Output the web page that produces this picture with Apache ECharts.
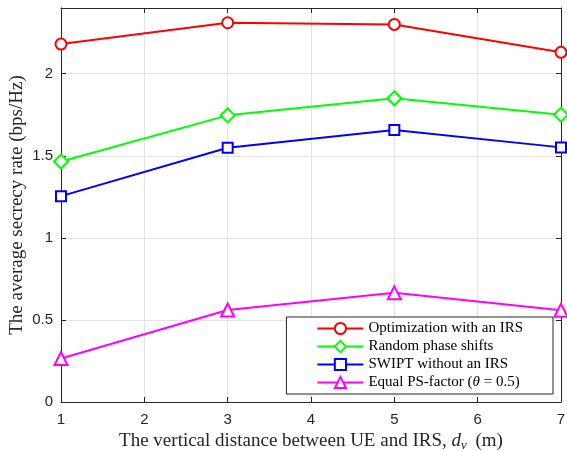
<!DOCTYPE html>
<html>
<head>
<meta charset="utf-8">
<script src="https://cdn.jsdelivr.net/npm/echarts@6/dist/echarts.min.js"></script>
<style>
  html, body { margin: 0; padding: 0; background: #fff; }
  #chart { width: 567px; height: 451px; }
</style>
</head>
<body>
<div id="chart"></div>
<script>
// Vertical distance d_v (m)
const distances = [1, 3, 5, 7];

// Average secrecy rate (bps/Hz) per scheme
const optimizedIRS = [2.18, 2.31, 2.30, 2.13];
const randomPhase = [1.465, 1.746, 1.85, 1.75];
const swiptNoIRS = [1.254, 1.549, 1.657, 1.551];
const equalPS = [0.265, 0.56, 0.665, 0.559];

const seriesNames = [
  'Optimization with an IRS',
  'Random phase shifts',
  'SWIPT without an IRS',
  'Equal PS-factor (θ = 0.5)'
];

const xTicks = [1, 2, 3, 4, 5, 6, 7];
const yTicks = [0, 0.5, 1, 1.5, 2];

const serif = '"Liberation Serif", "DejaVu Serif", serif';
const sans = '"Liberation Sans", Arial, sans-serif';
const axisColor = '#262626';

function pair(values) {
  return distances.map((d, i) => [d, values[i]]);
}

function lineSeries(name, values, color, symbol, size) {
  return {
    name: name,
    type: 'line',
    data: pair(values),
    symbol: symbol,
    symbolSize: size,
    showSymbol: true,
    lineStyle: { color: color, width: 2 },
    itemStyle: { color: color, borderColor: color, borderWidth: 2 },
    emphasis: { disabled: true },
    animation: false
  };
}

const chart = echarts.init(document.getElementById('chart'), null, { renderer: 'canvas' });

const tickStyle = { show: true, inside: true, length: 5, lineStyle: { color: axisColor, width: 1 } };

chart.setOption({
  backgroundColor: '#ffffff',
  animation: false,
  grid: { left: 61, right: 6, top: 8, bottom: 49, containLabel: false, outerBoundsMode: 'none' },
  legend: {
    right: 14,
    bottom: 57,
    orient: 'vertical',
    itemWidth: 46,
    itemHeight: 14,
    itemGap: 3,
    padding: [4, 30, 4, 30],
    backgroundColor: '#ffffff',
    borderColor: '#262626',
    borderWidth: 1,
    data: seriesNames,
    formatter: function (name) {
      if (name.indexOf('θ') >= 0) {
        return 'Equal PS-factor ({i|θ} = 0.5)';
      }
      return name;
    },
    textStyle: {
      fontFamily: serif,
      fontSize: 15,
      color: '#000',
      rich: {
        i: { fontFamily: serif, fontStyle: 'italic', fontSize: 15, color: '#000' }
      }
    }
  },
  xAxis: [
    {
      type: 'value',
      min: 1,
      max: 7,
      interval: 1,
      position: 'bottom',
      axisLine: { show: true, onZero: false, lineStyle: { color: axisColor, width: 1 } },
      axisTick: tickStyle,
      axisLabel: {
        color: axisColor, fontFamily: sans, fontSize: 15, margin: 10,
        formatter: v => (xTicks.indexOf(v) >= 0 ? String(v) : '')
      },
      splitLine: { show: true, lineStyle: { color: '#e3e3e3', width: 1 } },
      name: 'The vertical distance between UE and IRS, {i|d}{s|v} (m)',
      nameLocation: 'middle',
      nameGap: 28,
      nameMoveOverlap: false,
      nameTextStyle: {
        fontFamily: serif, fontSize: 19, color: axisColor,
        rich: {
          i: { fontFamily: serif, fontStyle: 'italic', fontSize: 19, color: axisColor },
          s: { fontFamily: serif, fontStyle: 'italic', fontSize: 13, color: axisColor, padding: [9, 4, 0, 0] }
        }
      }
    },
    {
      type: 'value',
      min: 1,
      max: 7,
      interval: 1,
      position: 'top',
      axisLine: { show: true, onZero: false, lineStyle: { color: axisColor, width: 1 } },
      axisTick: tickStyle,
      axisLabel: { show: false },
      splitLine: { show: false }
    }
  ],
  yAxis: [
    {
      type: 'value',
      min: 0,
      max: 2.4,
      interval: 0.5,
      position: 'left',
      axisLine: { show: true, onZero: false, lineStyle: { color: axisColor, width: 1 } },
      axisTick: tickStyle,
      axisLabel: {
        color: axisColor, fontFamily: sans, fontSize: 15, margin: 8,
        formatter: v => (yTicks.indexOf(v) >= 0 ? String(v) : '')
      },
      splitLine: { show: true, lineStyle: { color: '#e3e3e3', width: 1 } },
      name: 'The average secrecy rate (bps/Hz)',
      nameLocation: 'middle',
      nameGap: 34,
      nameMoveOverlap: false,
      nameTextStyle: { fontFamily: serif, fontSize: 19, color: axisColor }
    },
    {
      type: 'value',
      min: 0,
      max: 2.4,
      interval: 0.5,
      position: 'right',
      axisLine: { show: true, onZero: false, lineStyle: { color: axisColor, width: 1 } },
      axisTick: tickStyle,
      axisLabel: { show: false },
      splitLine: { show: false }
    }
  ],
  series: [
    lineSeries(seriesNames[0], optimizedIRS, '#ff0000', 'emptyCircle', 11),
    lineSeries(seriesNames[1], randomPhase, '#00ff00', 'emptyDiamond', 14),
    lineSeries(seriesNames[2], swiptNoIRS, '#0000ff', 'emptyRect', 10),
    lineSeries(seriesNames[3], equalPS, '#ff00ff', 'emptyTriangle', 13)
  ]
});
</script>
</body>
</html>
